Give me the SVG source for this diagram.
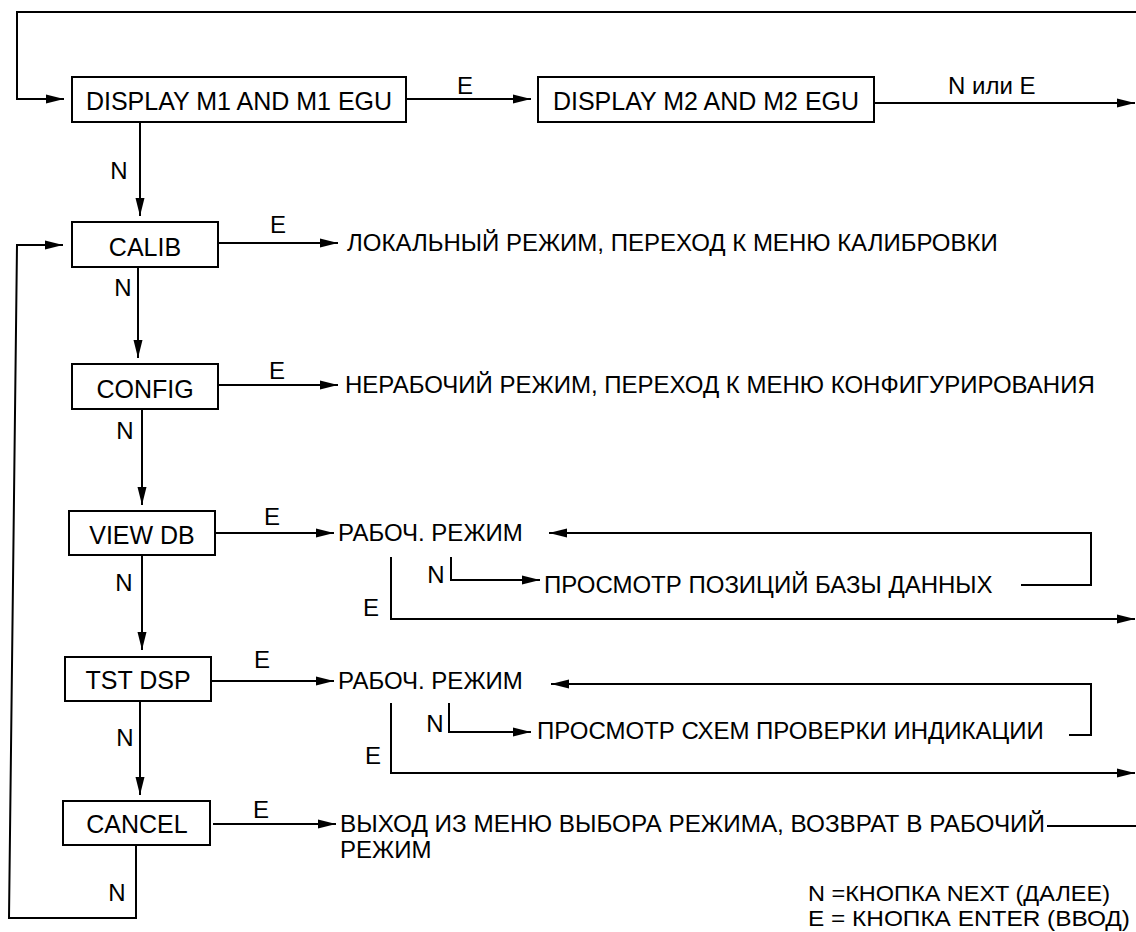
<svg xmlns="http://www.w3.org/2000/svg" width="1136" height="932" viewBox="0 0 1136 932">
  <style>
    .box { fill: #fff; stroke: #000; stroke-width: 2; }
    .bt { font-family: "Liberation Sans", Arial, sans-serif; font-size: 25px; fill: #000; text-anchor: middle; }
    .st { font-family: "Liberation Sans", Arial, sans-serif; font-size: 24px; fill: #000; }
    .lg { font-family: "Liberation Sans", Arial, sans-serif; font-size: 22px; fill: #000; }
    .lb { font-family: "Liberation Sans", Arial, sans-serif; font-size: 24px; fill: #000; text-anchor: middle; }
    .ln { fill: none; stroke: #000; stroke-width: 2; }
    .ar { marker-end: url(#ah); }
  </style>
  <defs>
    <marker id="ah" markerUnits="userSpaceOnUse" markerWidth="20" markerHeight="12" refX="18" refY="6" orient="auto">
      <path d="M0,1.5 L18,6 L0,10.5 z" fill="#000"/>
    </marker>
  </defs>
  <rect width="1136" height="932" fill="#fff"/>

  <g id="connectors">
    <path class="ln ar" d="M1136,12 H17 V99 H64"/>
    <path class="ln ar" d="M406,99 H531"/>
    <path class="ln ar" d="M874,103 H1135"/>
    <path class="ln ar" d="M140,122 V216"/>
    <path class="ln ar" d="M218,243 H338"/>
    <path class="ln ar" d="M138,267 V358"/>
    <path class="ln ar" d="M218,385 H338"/>
    <path class="ln ar" d="M142,409 V505"/>
    <path class="ln ar" d="M215,533 H334"/>
    <path class="ln ar" d="M142,555 V650"/>
    <path class="ln ar" d="M211,681 H334"/>
    <path class="ln ar" d="M140,701 V795"/>
    <path class="ln ar" d="M213,824 H336"/>
    <path class="ln ar" d="M136,845 V918 H9 L17,245 H63"/>
    <path class="ln ar" d="M1021,585 H1091 V533 H549"/>
    <path class="ln ar" d="M451,557 V580 H540"/>
    <path class="ln ar" d="M391,557 V619 H1135"/>
    <path class="ln ar" d="M1069,735 H1091 V684 H551"/>
    <path class="ln ar" d="M449,703 V732 H531"/>
    <path class="ln ar" d="M391,703 V773 H1135"/>
    <path class="ln" d="M1047,826 H1136"/>
  </g>

  <g id="labels">
    <text class="lb" x="465" y="94">E</text>
    <text class="st" x="948" y="94">N или E</text>
    <text class="lb" x="119" y="179">N</text>
    <text class="lb" x="278" y="233">E</text>
    <text class="lb" x="123" y="296">N</text>
    <text class="lb" x="277" y="379">E</text>
    <text class="lb" x="125" y="439">N</text>
    <text class="lb" x="272" y="525">E</text>
    <text class="lb" x="124" y="591">N</text>
    <text class="lb" x="436" y="583">N</text>
    <text class="lb" x="371" y="616">E</text>
    <text class="lb" x="262" y="668">E</text>
    <text class="lb" x="125" y="746">N</text>
    <text class="lb" x="435" y="732">N</text>
    <text class="lb" x="373" y="764">E</text>
    <text class="lb" x="261" y="818">E</text>
    <text class="lb" x="117" y="901">N</text>
  </g>

  <g id="display-m1">
    <rect class="box" x="72" y="77" width="334" height="45"/>
    <text class="bt" x="239" y="110">DISPLAY M1 AND M1 EGU</text>
  </g>
  <g id="display-m2">
    <rect class="box" x="538" y="77" width="336" height="45"/>
    <text class="bt" x="706" y="110">DISPLAY M2 AND M2 EGU</text>
  </g>
  <g id="calib">
    <rect class="box" x="72" y="222" width="146" height="45"/>
    <text class="bt" x="145" y="256">CALIB</text>
  </g>
  <g id="config">
    <rect class="box" x="72" y="364" width="146" height="45"/>
    <text class="bt" x="145" y="398">CONFIG</text>
  </g>
  <g id="view-db">
    <rect class="box" x="69" y="511" width="146" height="44"/>
    <text class="bt" x="142" y="544">VIEW DB</text>
  </g>
  <g id="tst-dsp">
    <rect class="box" x="65" y="657" width="146" height="44"/>
    <text class="bt" x="138" y="689">TST DSP</text>
  </g>
  <g id="cancel">
    <rect class="box" x="63" y="801" width="147" height="44"/>
    <text class="bt" x="137" y="833">CANCEL</text>
  </g>

  <g id="calib-out">
    <text class="st" x="347" y="251">ЛОКАЛЬНЫЙ РЕЖИМ, ПЕРЕХОД К МЕНЮ КАЛИБРОВКИ</text>
  </g>
  <g id="config-out">
    <text class="st" x="345" y="393">НЕРАБОЧИЙ РЕЖИМ, ПЕРЕХОД К МЕНЮ КОНФИГУРИРОВАНИЯ</text>
  </g>
  <g id="view-mode">
    <text class="st" x="338" y="541">РАБОЧ. РЕЖИМ</text>
  </g>
  <g id="view-browse">
    <text class="st" x="544" y="593">ПРОСМОТР ПОЗИЦИЙ БАЗЫ ДАННЫХ</text>
  </g>
  <g id="tst-mode">
    <text class="st" x="338" y="689">РАБОЧ. РЕЖИМ</text>
  </g>
  <g id="tst-browse">
    <text class="st" x="537" y="739">ПРОСМОТР СХЕМ ПРОВЕРКИ ИНДИКАЦИИ</text>
  </g>
  <g id="cancel-out">
    <text class="st" x="340" y="832" textLength="705" lengthAdjust="spacingAndGlyphs">ВЫХОД ИЗ МЕНЮ ВЫБОРА РЕЖИМА, ВОЗВРАТ В РАБОЧИЙ</text>
    <text class="st" x="340" y="858">РЕЖИМ</text>
  </g>
  <g id="legend">
    <text class="lg" x="808" y="901" textLength="302" lengthAdjust="spacingAndGlyphs">N =КНОПКА NEXT (ДАЛЕЕ)</text>
    <text class="lg" x="808" y="926" textLength="322" lengthAdjust="spacingAndGlyphs">E = КНОПКА ENTER (ВВОД)</text>
  </g>
</svg>
